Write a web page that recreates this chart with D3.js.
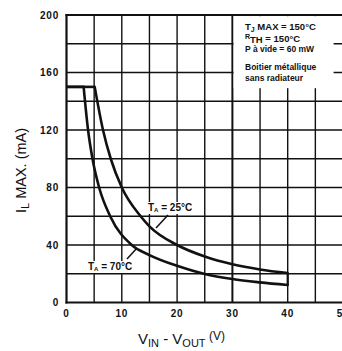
<!DOCTYPE html>
<html>
<head>
<meta charset="utf-8">
<script src="https://cdn.jsdelivr.net/npm/d3@7"></script>
<style>
  html, body { margin: 0; padding: 0; background: #fff; }
  svg { display: block; }
  text { font-family: "Liberation Sans", Arial, sans-serif; fill: #111; }
</style>
</head>
<body>
<svg id="chart" width="342" height="351"></svg>
<script>
// Maximum load current vs. input-output differential voltage
const xTicks = [0, 10, 20, 30, 40, 50];
const yTicks = [0, 40, 80, 120, 160, 200];
const xGrid = [5, 10, 15, 20, 25, 30, 35, 40, 45];
const yGrid = [20, 40, 60, 80, 100, 120, 140, 160, 180];

// Ambient 25 °C curve
const volts25 = [0, 5.1, 6.6, 8, 10, 13.4, 15, 20, 25, 30, 35, 40];
const amps25  = [150, 150, 120, 100, 80, 60, 53, 40, 32, 26.6, 23, 20.5];
// Ambient 70 °C curve
const volts70 = [0, 3.1, 3.9, 4.7, 5.9, 7.9, 11.8, 15, 20, 25, 30, 35, 40];
const amps70  = [150, 150, 120, 100, 80, 60, 40, 33, 25.5, 19.8, 16.3, 14, 12.2];

const svg = d3.select("#chart");
const x = d3.scaleLinear().domain([0, 50]).range([66.5, 343]);
const y = d3.scaleLinear().domain([0, 200]).range([302.5, 15]);

const ink = "#111";

// grid
const g = svg.append("g");
g.selectAll("line.v").data(xGrid).join("line")
  .attr("x1", d => x(d)).attr("x2", d => x(d))
  .attr("y1", y(0)).attr("y2", y(200))
  .attr("stroke", ink).attr("stroke-width", d => d === 30 ? 2 : 1.4);
g.selectAll("line.h").data(yGrid).join("line")
  .attr("x1", x(0)).attr("x2", 342)
  .attr("y1", d => y(d)).attr("y2", d => y(d))
  .attr("stroke", ink).attr("stroke-width", 1.4);

// frame: left, bottom, top
g.append("line").attr("x1", x(0)).attr("x2", x(0)).attr("y1", y(0) + 1).attr("y2", y(200) - 1)
  .attr("stroke", ink).attr("stroke-width", 2.2);
g.append("line").attr("x1", x(0) - 1).attr("x2", 342).attr("y1", y(0)).attr("y2", y(0))
  .attr("stroke", ink).attr("stroke-width", 2.2);
g.append("line").attr("x1", x(0) - 1).attr("x2", 342).attr("y1", y(200)).attr("y2", y(200))
  .attr("stroke", ink).attr("stroke-width", 2);

// note box
svg.append("rect").attr("x", x(30) + 1.2).attr("y", y(200) + 1.2)
  .attr("width", 100).attr("height", 72).attr("fill", "#fff");

const note = svg.append("g").attr("font-weight", "bold").attr("font-size", 9.5);
const t1 = note.append("text").attr("x", 245).attr("y", 30);
t1.append("tspan").text("T");
t1.append("tspan").attr("font-size", 7).attr("dy", 2).text("J");
t1.append("tspan").attr("dy", -2).text(" MAX = 150°C");
const t2 = note.append("text").attr("x", 245).attr("y", 42);
t2.append("tspan").attr("font-size", 7).attr("dy", -3).text("R");
t2.append("tspan").attr("dy", 4).text("TH");
t2.append("tspan").attr("dy", -1).text(" = 150°C");
note.append("text").attr("x", 245).attr("y", 52).attr("font-size", 8.5).text("P à vide = 60 mW");
note.append("text").attr("x", 245).attr("y", 70).attr("font-size", 8.5).text("Boitier métallique");
note.append("text").attr("x", 245).attr("y", 81).attr("font-size", 8.5).text("sans radiateur");

// curves: flat limit segment then the power-limited part
function drawCurve(vs, is) {
  const pts = vs.map((v, i) => [v, is[i]]);
  const flat = d3.line().x(d => x(d[0])).y(d => y(d[1]));
  const drop = d3.line().x(d => x(d[0])).y(d => y(d[1])).curve(d3.curveMonotoneX);
  svg.append("path").attr("d", flat(pts.slice(0, 2)))
    .attr("fill", "none").attr("stroke", ink).attr("stroke-width", 2.6);
  svg.append("path").attr("d", drop(pts.slice(1)))
    .attr("fill", "none").attr("stroke", ink).attr("stroke-width", 2.6)
    .attr("stroke-linecap", "round");
}
drawCurve(volts25, amps25);
drawCurve(volts70, amps70);

// join the two curve ends at the maximum voltage
svg.append("line")
  .attr("x1", x(volts25[volts25.length - 1])).attr("x2", x(volts70[volts70.length - 1]))
  .attr("y1", y(amps25[amps25.length - 1])).attr("y2", y(amps70[amps70.length - 1]))
  .attr("stroke", ink).attr("stroke-width", 2.2);

// curve labels on white patches, with leaders
const lab = svg.append("g").attr("font-weight", "bold").attr("font-size", 10);
lab.append("rect").attr("x", 146).attr("y", 202).attr("width", 56).attr("height", 12).attr("fill", "#fff");
lab.append("rect").attr("x", 86).attr("y", 261).attr("width", 56).attr("height", 12).attr("fill", "#fff");
const l1 = lab.append("text").attr("x", 148).attr("y", 211);
l1.append("tspan").text("T");
l1.append("tspan").attr("font-size", 6).attr("dy", 1).text("A");
l1.append("tspan").attr("dy", -1).text(" = 25°C");
lab.append("line").attr("x1", 168).attr("y1", 215).attr("x2", 156).attr("y2", 228)
  .attr("stroke", ink).attr("stroke-width", 1.5);
const l2 = lab.append("text").attr("x", 88).attr("y", 270);
l2.append("tspan").text("T");
l2.append("tspan").attr("font-size", 6).attr("dy", 1).text("A");
l2.append("tspan").attr("dy", -1).text(" = 70°C");
lab.append("line").attr("x1", 127).attr("y1", 259).attr("x2", 137).attr("y2", 248)
  .attr("stroke", ink).attr("stroke-width", 1.5);

// tick labels
const tk = svg.append("g").attr("font-weight", "bold").attr("font-size", 10)
  .attr("letter-spacing", 0.8);
tk.selectAll("text.y").data(yTicks).join("text")
  .attr("x", 59).attr("y", d => y(d) + 3.5).attr("text-anchor", "end").text(d => d);
tk.selectAll("text.x").data(xTicks).join("text")
  .attr("x", d => x(d)).attr("y", 317).attr("text-anchor", "middle").text(d => d);

// axis titles
const xt = svg.append("text").attr("x", 138).attr("y", 344).attr("font-size", 15);
xt.append("tspan").text("V");
xt.append("tspan").attr("font-size", 11).attr("dy", 3).text("IN");
xt.append("tspan").attr("dy", -3).text(" - V");
xt.append("tspan").attr("font-size", 11).attr("dy", 3).text("OUT");
xt.append("tspan").attr("font-size", 12).attr("dy", -7).text(" (V)");

const yt = svg.append("text").attr("transform", "translate(26,213) rotate(-90)")
  .attr("font-size", 14.5);
yt.append("tspan").text("I");
yt.append("tspan").attr("font-size", 11).attr("dy", 3).text("L");
yt.append("tspan").attr("dy", -3).text(" MAX. (mA)");
</script>
</body>
</html>
